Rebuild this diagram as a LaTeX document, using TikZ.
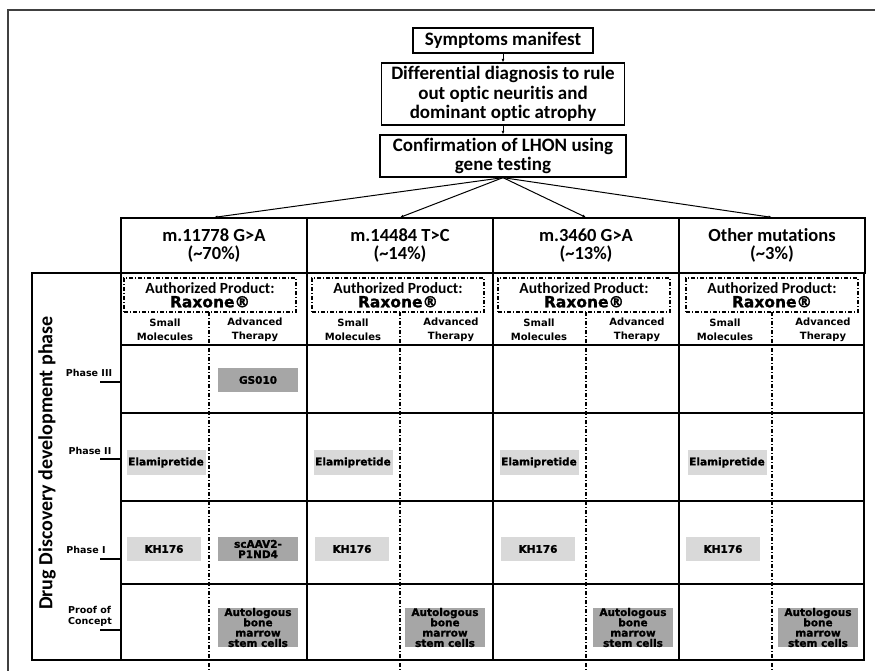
\documentclass[tikz,border=0pt]{standalone}
\usepackage{fontspec}
\setmainfont{Carlito}[Ligatures=NoCommon]
\newfontfamily\boxfont{DejaVu Sans}
\newfontfamily\drugfont{DejaVu Sans}[BoldFeatures={FakeBold=1.2}]
\usetikzlibrary{calc}
\usetikzlibrary{arrows.meta}
\definecolor{lightcell}{HTML}{D9D9D9}
\definecolor{darkcell}{HTML}{A6A6A6}
\definecolor{framegray}{HTML}{404040}

\begin{document}
\begin{tikzpicture}[x=1pt, y=-1pt,
	flowbox/.style={draw, line width=1.3pt, align=center, inner sep=0pt, font=\bfseries\fontsize{19}{19.5}\selectfont},
	mutcell/.style={draw, line width=1.2pt, minimum width=186pt, minimum height=55pt, align=center, inner sep=0pt, font=\bfseries\fontsize{18.5}{18}\selectfont},
	authbox/.style={draw, line width=1.1pt, dash pattern=on 4pt off 2pt on 1pt off 2pt, minimum width=172pt, minimum height=34pt, align=center, inner sep=0pt, font=\bfseries\fontsize{15.5}{14}\selectfont},
	kindtext/.style={align=center, inner sep=0pt, font=\boxfont\bfseries\fontsize{10}{14}\selectfont},
	phasetext/.style={align=left, inner sep=0pt, font=\boxfont\bfseries\fontsize{9.5}{11}\selectfont},
	lightdrug/.style={fill=lightcell, minimum width=79pt, minimum height=25pt, inner sep=0pt, align=center, font=\drugfont\bfseries\fontsize{10.5}{10.3}\selectfont},
	darkdrug/.style={lightdrug, fill=darkcell, minimum width=80pt},
	gridline/.style={line width=1.2pt},
	dashdot/.style={line width=1.1pt, dash pattern=on 4pt off 2pt on 1pt off 2pt},
	flowarrow/.style={-{Latex[length=3.5pt,width=3pt]}, line width=1pt}
]
	\useasboundingbox (0,0) rectangle (875,671);

	% Frame round the whole figure
	\draw[framegray, line width=1.5pt] (8,671) -- (8,10) -- (875,10);

	% Top of each mutation column
	\coordinate (C1) at (121,273);
	\coordinate (C2) at (307,273);
	\coordinate (C3) at (493,273);
	\coordinate (C4) at (679,273);

	% Diagnosis steps
	\node[flowbox, minimum width=180pt, minimum height=25pt] (symp) at (503,40.5) {Symptoms manifest};
	\node[flowbox, minimum width=243pt, minimum height=62pt] (diag) at (503,94) {Differential diagnosis to rule\\out optic neuritis and\\dominant optic atrophy};
	\node[flowbox, minimum width=246pt, minimum height=42pt] (conf) at (503,156) {Confirmation of LHON using\\gene testing};
	\draw[flowarrow] (symp) -- (diag);
	\draw[flowarrow] (diag) -- (conf);

	% Mutations
	\node[mutcell] (mut1) at ($(C1)+(93,-27.5)$) {m.11778 G>A\\(\textasciitilde70\%)};
	\node[mutcell] (mut2) at ($(C2)+(93,-27.5)$) {m.14484 T>C\\(\textasciitilde14\%)};
	\node[mutcell] (mut3) at ($(C3)+(93,-27.5)$) {m.3460 G>A\\(\textasciitilde13\%)};
	\node[mutcell] (mut4) at ($(C4)+(93,-27.5)$) {Other mutations\\(\textasciitilde3\%)};
	\draw[flowarrow] (conf.south) -- (mut1.north);
	\draw[flowarrow] (conf.south) -- (mut2.north);
	\draw[flowarrow] (conf.south) -- (mut3.north);
	\draw[flowarrow] (conf.south) -- (mut4.north);

	% Phase axis on the left
	\draw[gridline] (32,273) rectangle (121,660);
	\node[rotate=90, font=\bfseries\fontsize{20}{20}\selectfont] (axis) at (47,463) {Drug Discovery development phase};
	\node[phasetext] (ph3) at (89,373) {Phase III};
	\draw[gridline] (100,382) -- (121,382);
	\node[phasetext] (ph2) at (90,451) {Phase II};
	\draw[gridline] (100,459) -- (121,459);
	\node[phasetext] (ph1) at (86,550) {Phase I};
	\draw[gridline] (100,559) -- (121,559);
	\node[phasetext] (poc) at (90,616.5) {Proof of\\Concept};
	\draw[gridline] (100,630) -- (121,630);

	% Table body
	\draw[gridline] (C1) rectangle (864,660);
	\draw[gridline] (C2) -- ($(C2)+(0,387)$);
	\draw[gridline] (C3) -- ($(C3)+(0,387)$);
	\draw[gridline] (C4) -- ($(C4)+(0,387)$);
	\draw[gridline] (121,345) -- (864,345);
	\draw[gridline] (121,413) -- (864,413);
	\draw[gridline] (121,501) -- (864,501);
	\draw[gridline] (121,584) -- (864,584);

	% Authorized product, one per column
	\node[authbox] (auth1) at ($(C1)+(89,22)$) {Authorized Product:\\{\drugfont\fontsize{15.5}{15}\selectfont Raxone®}};
	\node[authbox] (auth2) at ($(C2)+(91,22)$) {Authorized Product:\\{\drugfont\fontsize{15.5}{15}\selectfont Raxone®}};
	\node[authbox] (auth3) at ($(C3)+(91,22)$) {Authorized Product:\\{\drugfont\fontsize{15.5}{15}\selectfont Raxone®}};
	\node[authbox] (auth4) at ($(C4)+(93,22)$) {Authorized Product:\\{\drugfont\fontsize{15.5}{15}\selectfont Raxone®}};

	% Small molecules | advanced therapy
	\draw[dashdot] ($(C1)+(88,39)$) -- ($(C1)+(88,398)$);
	\draw[dashdot] ($(C2)+(93,39)$) -- ($(C2)+(93,398)$);
	\draw[dashdot] ($(C3)+(93,39)$) -- ($(C3)+(93,398)$);
	\draw[dashdot] ($(C4)+(93,39)$) -- ($(C4)+(93,398)$);
	\node[kindtext] (sm1) at ($(C1)+(44,57)$) {Small\\Molecules};
	\node[kindtext] (at1) at ($(C1)+(134,57)$) {Advanced\\Therapy};
	\node[kindtext] (sm2) at ($(C2)+(46,57)$) {Small\\Molecules};
	\node[kindtext] (at2) at ($(C2)+(144,57)$) {Advanced\\Therapy};
	\node[kindtext] (sm3) at ($(C3)+(46,57)$) {Small\\Molecules};
	\node[kindtext] (at3) at ($(C3)+(144,57)$) {Advanced\\Therapy};
	\node[kindtext] (sm4) at ($(C4)+(46,57)$) {Small\\Molecules};
	\node[kindtext] (at4) at ($(C4)+(144,57)$) {Advanced\\Therapy};

	% Candidates in the first column
	\node[darkdrug, minimum height=24pt] (gs1) at ($(C1)+(137,107)$) {GS010};
	\node[lightdrug] (ela1) at ($(C1)+(45,189.5)$) {Elamipretide};
	\node[lightdrug, minimum width=74pt, minimum height=24pt] (kh1) at ($(C1)+(43,276)$) {KH176};
	\node[darkdrug, minimum height=24pt] (sc1) at ($(C1)+(137,276)$) {scAAV2-\\P1ND4};
	\node[darkdrug, minimum height=39pt] (auto1) at ($(C1)+(137,354.5)$) {Autologous\\bone\\marrow\\stem cells};

	% Candidates in the other columns
	\node[lightdrug] (ela2) at ($(C2)+(46,189.5)$) {Elamipretide};
	\node[lightdrug, minimum width=74pt, minimum height=24pt] (kh2) at ($(C2)+(45,276)$) {KH176};
	\node[darkdrug, minimum height=39pt] (auto2) at ($(C2)+(138,354.5)$) {Autologous\\bone\\marrow\\stem cells};
	\node[lightdrug] (ela3) at ($(C3)+(46,189.5)$) {Elamipretide};
	\node[lightdrug, minimum width=74pt, minimum height=24pt] (kh3) at ($(C3)+(45,276)$) {KH176};
	\node[darkdrug, minimum height=39pt] (auto3) at ($(C3)+(140,354.5)$) {Autologous\\bone\\marrow\\stem cells};
	\node[lightdrug] (ela4) at ($(C4)+(48,189.5)$) {Elamipretide};
	\node[lightdrug, minimum width=74pt, minimum height=24pt] (kh4) at ($(C4)+(44,276)$) {KH176};
	\node[darkdrug, minimum height=39pt] (auto4) at ($(C4)+(139,354.5)$) {Autologous\\bone\\marrow\\stem cells};
\end{tikzpicture}
\end{document}
